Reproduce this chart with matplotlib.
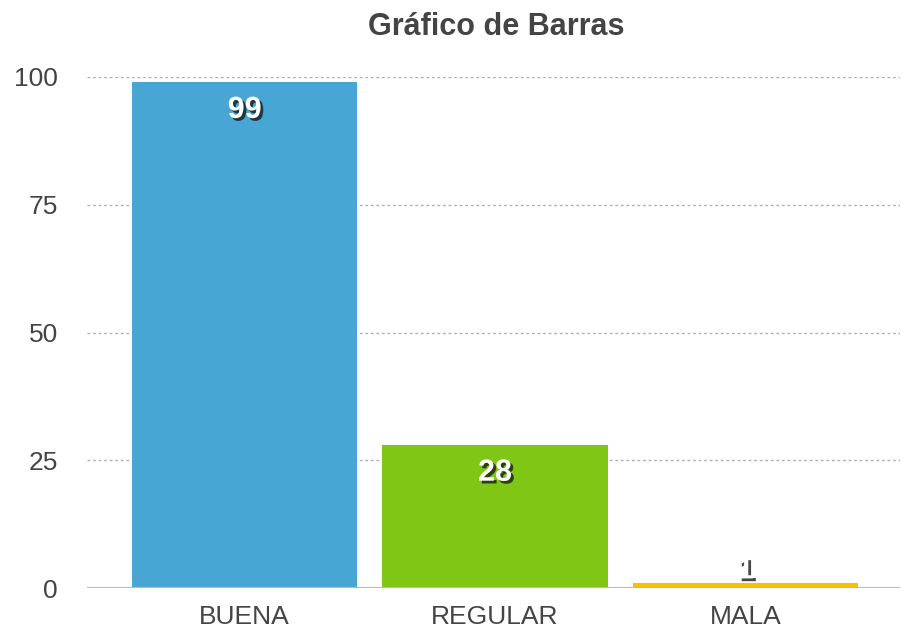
import matplotlib
matplotlib.use('Agg')
import matplotlib.pyplot as plt
import matplotlib.patheffects as pe

categories = ['BUENA', 'REGULAR', 'MALA']
values = [99, 28, 1]
colors = ['#47a6d3', '#80c614', '#f5c200']
yticks = [0, 25, 50, 75, 100]

plt.rcParams['font.family'] = ['Liberation Sans', 'DejaVu Sans']

fig = plt.figure(figsize=(9.03, 6.28), dpi=100)
ax = fig.add_axes([87 / 903, 1 - 588 / 628, (900 - 87) / 903, (588 - 77) / 628])

x = list(range(len(categories)))
ax.bar(x, values, width=0.9, color=colors, zorder=3)

ax.set_ylim(0, 100)
ax.set_xlim(-0.629, 2.617)
ax.set_yticks(yticks)
ax.set_xticks(x)
ax.set_xticklabels(categories)
ax.tick_params(axis='both', length=0, labelsize=19, colors='#444444')
ax.tick_params(axis='y', pad=21)
ax.tick_params(axis='x', pad=12)

for y in yticks[1:]:
    ax.axhline(y, color='#b0b0b0', linewidth=1, linestyle=(0, (2, 2)), zorder=1)
ax.axhline(0, color='#bbbbbb', linewidth=1.5, zorder=4)

for s in ax.spines.values():
    s.set_visible(False)

# white value labels with a dark drop shadow
shadow = [pe.SimplePatchShadow(offset=(2, -2), shadow_rgbFace='#1a1a1a', alpha=0.8), pe.Normal()]
for i, v in enumerate(values):
    dy = -20 if v > 10 else 9
    ax.annotate(str(v), (i, v), xytext=(0, dy), textcoords='offset points',
                ha='center', va='center', fontsize=22, fontweight='bold', color='white',
                path_effects=shadow, zorder=5)

fig.text(496 / 903, 1 - 27 / 628, 'Gráfico de Barras', ha='center', va='center',
         fontsize=22, fontweight='bold', color='#444444')

fig.savefig('out.png', dpi=100)
